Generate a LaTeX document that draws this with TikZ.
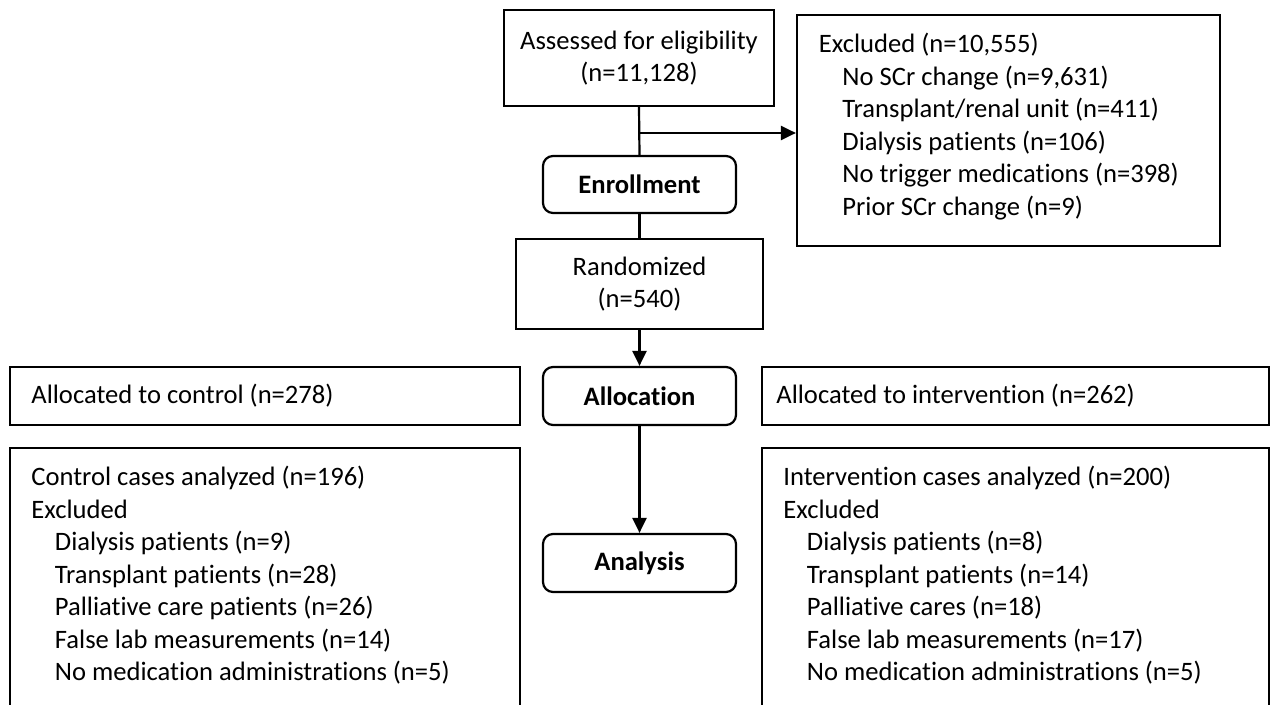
\documentclass[tikz,border=0pt]{standalone}
\usepackage{fontspec}
\setmainfont[Ligatures={NoCommon}]{Carlito}
\usetikzlibrary{arrows.meta}
\newcommand{\indt}{\hspace*{11.75pt}}
\begin{document}
\begin{tikzpicture}[x=0.5pt,y=-0.5pt,
  every node/.style={font=\fontsize{13.3}{16.25}\selectfont},
  boxst/.style={draw, line width=1.1pt, inner sep=0pt, rectangle, align=center},
  rbox/.style={boxst, rounded corners=5pt, font=\fontsize{13.3}{16.25}\selectfont\bfseries},
  txt/.style={inner sep=0pt, align=left, anchor=north west},
  stxt/.style={inner sep=0pt, anchor=west},
  conn/.style={line width=1.1pt},
  arr/.style={conn, -{Triangle[width=7pt,length=7.5pt]}}]
\useasboundingbox (0,0) rectangle (1270,705);
\clip (0,0) rectangle (1270,705);

% boxes
\node[boxst, minimum width=135pt, minimum height=48pt] (assess) at (639,58) {Assessed for eligibility\\(n=11,128)};
\node[boxst, minimum width=211.5pt, minimum height=115.5pt] (excl) at (1008.5,130.5) {};
\node[rbox, minimum width=96.5pt, minimum height=28.5pt] (enroll) at (639.5,184.5) {Enrollment};
\node[boxst, minimum width=123.5pt, minimum height=45pt] (rand) at (639.5,284) {Randomized\\(n=540)};
\node[rbox, minimum width=96.5pt, minimum height=29pt] (alloc) at (639.5,396) {Allocation};
\node[boxst, minimum width=255pt, minimum height=29pt] (ctrlalloc) at (265,396) {};
\node[boxst, minimum width=253.5pt, minimum height=29pt] (intalloc) at (1015.5,396) {};
\node[boxst, minimum width=255pt, minimum height=141pt] (ctrl) at (265,589) {};
\node[boxst, minimum width=253.5pt, minimum height=141pt] (intv) at (1015.5,589) {};
\node[rbox, minimum width=96.5pt, minimum height=29pt] (analysis) at (639.5,563) {Analysis};

% texts
\node[txt] (excltxt) at (818.5,29.5) {\strut Excluded (n=10,555)\\
\indt No SCr change (n=9,631)\\
\indt Transplant/renal unit (n=411)\\
\indt Dialysis patients (n=106)\\
\indt No trigger medications (n=398)\\
\indt Prior SCr change (n=9)};
\node[stxt] (ctrlalloctxt) at (31,396) {Allocated to control (n=278)};
\node[stxt] (intalloctxt) at (776,396) {Allocated to intervention (n=262)};
\node[txt] (ctrltxt) at (31,462.5) {\strut Control cases analyzed (n=196)\\
Excluded\\
\indt Dialysis patients (n=9)\\
\indt Transplant patients (n=28)\\
\indt Palliative care patients (n=26)\\
\indt False lab measurements (n=14)\\
\indt No medication administrations (n=5)};
\node[txt] (intvtxt) at (783,462.5) {\strut Intervention cases analyzed (n=200)\\
Excluded\\
\indt Dialysis patients (n=8)\\
\indt Transplant patients (n=14)\\
\indt Palliative cares (n=18)\\
\indt False lab measurements (n=17)\\
\indt No medication administrations (n=5)};

% connectors
\coordinate (br) at (639,133);
\draw[conn] (assess.south) -- (enroll.north);
\draw[conn] (enroll.south) -- (rand.north);
\draw[arr] (br) -- (br -| excl.west);
\draw[arr] (rand.south) -- (alloc.north);
\draw[arr] (alloc.south) -- (analysis.north);
\end{tikzpicture}
\end{document}
